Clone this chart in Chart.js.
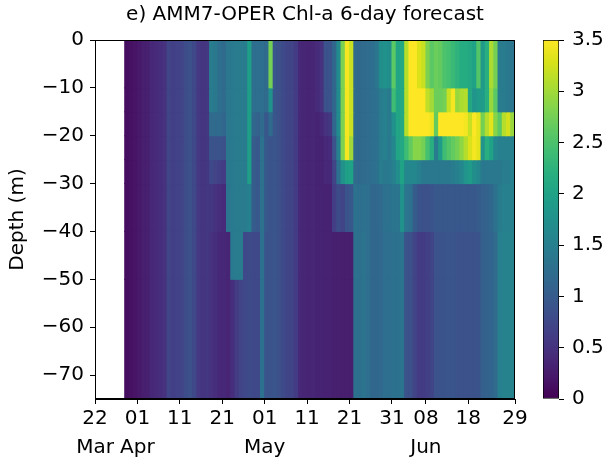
<!DOCTYPE html>
<html>
<head>
<meta charset="utf-8">
<script src="https://cdn.jsdelivr.net/npm/chart.js@4.4.0/dist/chart.umd.min.js"></script>
<style>
  html, body { margin: 0; padding: 0; background: #fff; }
  #wrap { position: relative; width: 610px; height: 459px; }
  #main { position: absolute; left: 0; top: 0; }
  #cbar { position: absolute; left: 530px; top: 0; }
</style>
</head>
<body>
<div id="wrap">
  <canvas id="main" width="610" height="459"></canvas>
  <canvas id="cbar" width="80" height="459"></canvas>
</div>
<script>
/* ---- data: Chl-a (mg m-3) per day, one array per depth layer ---- */
const FIRST_DAY = 7;              // 29 Mar, in days after 22 Mar
const layerTops    = [0, -10, -15, -20, -25, -30, -40, -50];
const layerBottoms = [-10, -15, -20, -25, -30, -40, -50, -75];

const chl0_10 = [
  0.12,0.15,0.18,0.22,0.28,0.3,0.38,0.42,0.45,0.5,0.72,0.65,0.68,0.7,0.82,0.85,0.75,0.58,0.52,0.55,
  1.45,1.4,1.25,1.2,1.38,1.42,1.45,1.45,1.45,1.95,
  1.25,1.25,1.25,1.2,2.75,0.92,0.85,0.78,0.72,0.7,
  0.6,0.38,0.36,0.35,0.36,0.42,0.5,0.88,0.9,1.15,
  1.65,2.8,3.45,3.2,1.2,1.18,1.2,1.22,1.25,1.35,
  1.7,1.75,1.7,2.6,2.05,2.1,3.1,3.5,3.5,3.3,
  3.2,2.8,2.6,2.7,2.65,2.5,2.45,2.35,2.25,2.15,
  2.15,2.1,2.0,2.55,1.9,2.2,3.05,2.75,1.45,1.45,
  1.4,1.35];
const chl10_15 = [
  0.12,0.15,0.18,0.22,0.28,0.3,0.38,0.42,0.45,0.5,0.72,0.65,0.68,0.7,0.82,0.85,0.75,0.58,0.52,0.55,
  1.45,1.4,1.25,1.2,1.38,1.42,1.45,1.45,1.45,1.95,
  1.25,1.25,1.25,1.2,1.75,0.92,0.85,0.78,0.72,0.7,
  0.6,0.38,0.36,0.35,0.36,0.42,0.5,0.88,0.9,1.15,
  1.65,2.8,3.45,3.2,1.2,1.18,1.2,1.22,1.25,1.3,
  1.45,1.5,1.42,2.4,2.05,2.1,3.1,3.5,3.5,3.5,
  3.5,3.15,3.0,2.7,2.7,2.75,3.2,3.45,2.95,3.05,
  3.1,2.1,1.8,1.9,1.9,2.2,2.95,2.6,1.45,1.45,
  1.4,1.35];
const chl15_20 = [
  0.12,0.15,0.18,0.22,0.28,0.3,0.38,0.42,0.45,0.5,0.72,0.65,0.68,0.7,0.82,0.85,0.75,0.58,0.52,0.55,
  1.2,1.2,1.2,1.15,1.38,1.42,1.45,1.45,1.45,1.95,
  1.15,1.1,1.2,0.95,1.2,0.92,0.85,0.78,0.72,0.7,
  0.6,0.38,0.36,0.35,0.36,0.33,0.38,0.5,0.55,1.15,
  1.65,2.8,3.45,3.2,1.2,1.18,1.2,1.22,1.25,1.3,
  1.45,1.5,1.42,1.75,2.05,2.1,3.1,3.5,3.5,3.5,
  3.5,3.5,3.4,2.65,3.5,3.5,3.5,3.5,3.5,3.5,
  3.45,3.2,3.5,3.35,2.75,3.1,3.35,2.85,2.6,3.1,
  3.25,2.95];
const chl20_25 = [
  0.12,0.15,0.18,0.22,0.28,0.3,0.38,0.42,0.45,0.5,0.72,0.65,0.68,0.7,0.82,0.85,0.75,0.58,0.52,0.55,
  0.9,0.88,0.9,0.85,1.38,1.42,1.45,1.45,1.45,1.95,
  1.0,0.95,1.3,0.95,0.9,0.92,0.85,0.78,0.72,0.7,
  0.6,0.38,0.36,0.35,0.36,0.33,0.33,0.38,0.42,0.88,
  1.5,2.8,3.45,3.0,1.2,1.18,1.2,1.22,1.25,1.3,
  1.45,1.5,1.42,1.6,2.05,2.1,2.4,2.65,2.85,2.85,
  2.75,2.45,2.2,1.45,1.9,2.4,2.55,2.65,2.75,2.9,
  3.1,3.3,3.45,3.35,1.8,2.2,2.0,1.6,1.5,1.5,
  1.5,1.5];
const chl25_30 = [
  0.12,0.15,0.18,0.22,0.28,0.3,0.38,0.42,0.45,0.5,0.72,0.65,0.68,0.7,0.82,0.85,0.75,0.58,0.52,0.55,
  0.75,0.7,0.65,0.6,1.38,1.42,1.45,1.45,1.45,1.95,
  1.0,0.95,1.3,0.95,0.9,0.92,0.85,0.78,0.72,0.7,
  0.6,0.38,0.36,0.35,0.36,0.33,0.33,0.38,0.38,0.7,
  1.3,1.75,1.95,2.0,1.2,1.18,1.2,1.22,1.25,1.3,
  1.45,1.4,1.42,1.5,1.7,2.0,1.6,1.6,1.6,1.5,
  1.4,1.4,1.4,1.4,1.4,1.4,1.4,1.45,1.5,1.6,
  1.8,1.9,1.7,1.6,1.4,1.4,1.4,1.4,1.4,1.45,
  1.45,1.5];
const chl30_40 = [
  0.12,0.15,0.18,0.22,0.28,0.3,0.38,0.42,0.45,0.5,0.72,0.65,0.68,0.7,0.82,0.85,0.75,0.58,0.52,0.55,
  0.55,0.5,0.45,0.42,1.35,1.42,1.45,1.45,1.45,1.5,
  1.0,0.95,1.3,0.95,0.9,0.92,0.85,0.78,0.72,0.7,
  0.6,0.38,0.36,0.35,0.36,0.33,0.33,0.32,0.32,0.65,
  0.8,0.7,0.9,0.95,1.3,1.25,1.3,1.25,1.15,1.15,
  1.2,1.3,1.3,1.35,1.35,1.75,1.35,1.3,1.0,0.9,
  0.85,0.85,0.9,0.95,0.95,0.95,0.95,0.95,0.95,0.95,
  0.95,0.95,0.95,1.0,1.05,1.1,1.15,1.3,1.45,1.5,
  1.5,1.5];
const chl40_50 = [
  0.12,0.15,0.18,0.22,0.28,0.3,0.38,0.42,0.45,0.5,0.72,0.65,0.68,0.7,0.82,0.85,0.75,0.58,0.52,0.55,
  0.5,0.45,0.38,0.38,0.35,1.42,1.45,1.45,0.75,0.8,
  0.75,0.75,1.3,0.9,0.9,0.92,0.85,0.78,0.72,0.7,
  0.6,0.38,0.36,0.35,0.36,0.33,0.33,0.32,0.32,0.3,
  0.3,0.28,0.28,0.28,1.3,1.28,1.32,1.25,1.15,1.15,
  1.18,1.25,1.25,1.3,1.3,1.32,0.88,0.85,0.7,0.6,
  0.6,0.65,0.72,0.88,0.9,0.9,0.92,0.92,0.88,0.88,
  0.88,0.88,0.88,0.9,1.05,1.1,1.12,1.2,1.5,1.55,
  1.55,1.55];
const chl50_75 = [
  0.12,0.15,0.18,0.22,0.28,0.3,0.38,0.42,0.45,0.5,0.72,0.65,0.68,0.7,0.82,0.85,0.75,0.58,0.52,0.55,
  0.5,0.45,0.38,0.38,0.35,0.45,0.6,0.7,0.75,0.8,
  0.75,0.75,1.3,0.9,0.9,0.92,0.85,0.78,0.72,0.7,
  0.6,0.38,0.36,0.35,0.36,0.33,0.33,0.32,0.32,0.3,
  0.3,0.28,0.28,0.28,1.3,1.28,1.32,1.25,1.15,1.15,
  1.18,1.25,1.25,1.3,1.3,1.32,0.88,0.85,0.7,0.6,
  0.6,0.65,0.72,0.88,0.9,0.9,0.92,0.92,0.88,0.88,
  0.88,0.88,0.88,0.9,1.05,1.1,1.12,1.2,1.5,1.55,
  1.55,1.55];
const layerValues = [chl0_10, chl10_15, chl15_20, chl20_25, chl25_30, chl30_40, chl40_50, chl50_75];

/* x ticks (days after 22 Mar) */
const tickDays   = [0, 10, 20, 30, 40, 50, 60, 70, 78, 88, 99];
const tickDates  = ['22', '01', '11', '21', '01', '11', '21', '31', '08', '18', '29'];
const tickMonths = ['Mar', 'Apr', '', '', 'May', '', '', '', 'Jun', '', ''];
const depthTicks = [0, -10, -20, -30, -40, -50, -60, -70];
const CB_MIN = 0, CB_MAX = 3.5;

/* viridis, 17 stops */
const VIRIDIS = ['#440154','#48186a','#472d7b','#424086','#3b528b','#33638d','#2c728e','#26828e',
  '#21918c','#1fa088','#28ae80','#3fbc73','#5ec962','#84d44b','#addc30','#d8e219','#fde725'];
const rgb = h => [1, 3, 5].map(i => parseInt(h.slice(i, i + 2), 16));
function viridis(v) {
  const t = Math.min(1, Math.max(0, (v - CB_MIN) / (CB_MAX - CB_MIN))) * (VIRIDIS.length - 1);
  const i = Math.min(VIRIDIS.length - 2, Math.floor(t)), f = t - i;
  const a = rgb(VIRIDIS[i]), b = rgb(VIRIDIS[i + 1]);
  return `rgb(${a.map((c, k) => Math.round(c + (b[k] - c) * f)).join(',')})`;
}

Chart.defaults.font.family = 'DejaVu Sans';
Chart.defaults.font.size = 20;
Chart.defaults.color = '#000';

/* box round the plot area, like the matplotlib spines */
const frame = {
  id: 'frame',
  afterDatasetsDraw(chart) {
    const { ctx, chartArea: a } = chart;
    ctx.save();
    ctx.strokeStyle = '#000'; ctx.lineWidth = 1;
    ctx.strokeRect(Math.round(a.left) + 0.5, Math.round(a.top) + 0.5,
      Math.round(a.right - a.left) - 1, Math.round(a.bottom - a.top) - 1);
    ctx.restore();
  }
};

/* one floating-bar dataset per depth layer, one bar per day */
const datasets = layerValues.map((vals, k) => ({
  data: vals.map((v, i) => ({ x: FIRST_DAY + i + 0.5, y: [layerTops[k], layerBottoms[k]] })),
  backgroundColor: vals.map(viridis),
  borderWidth: 0,
  grouped: false,
  barPercentage: 1,
  categoryPercentage: 1,
  inflateAmount: 0.5,
}));

new Chart(document.getElementById('main'), {
  type: 'bar',
  data: { datasets },
  plugins: [frame],
  options: {
    responsive: false, animation: false,
    layout: { padding: { left: 0, right: 95, top: 0, bottom: 0 } },
    plugins: {
      legend: { display: false }, tooltip: { enabled: false },
      title: { display: true, fullSize: false, text: 'e) AMM7-OPER Chl-a 6-day forecast',
        font: { size: 20, weight: 'normal' }, color: '#000', padding: { top: 3, bottom: 13 } },
    },
    scales: {
      x: {
        type: 'linear', min: 0, max: 99, offset: false,
        afterBuildTicks: s => { s.ticks = tickDays.map(v => ({ value: v })); },
        afterFit: s => { s.height = 60; },
        ticks: { autoSkip: false, maxRotation: 0, minRotation: 0, padding: 0,
          font: { size: 20, lineHeight: 1.45 },
          callback: (v, i) => tickMonths[i] ? [tickDates[i], tickMonths[i]] : tickDates[i] },
        grid: { offset: false, drawOnChartArea: false, tickLength: 5, tickColor: '#000' },
        border: { display: true, color: '#000' },
      },
      y: {
        min: layerBottoms[layerBottoms.length - 1], max: 0,
        afterBuildTicks: s => { s.ticks = depthTicks.map(v => ({ value: v })); },
        afterFit: s => { s.width = 95; },
        ticks: { padding: 6, callback: v => v < 0 ? '\u2212' + Math.abs(v) : String(v) },
        grid: { drawOnChartArea: false, tickLength: 5, tickColor: '#000' },
        border: { display: true, color: '#000' },
        title: { display: true, text: 'Depth (m)', font: { size: 20 }, color: '#000', padding: { top: 6, bottom: 0 } },
      },
    },
  },
});

/* colour bar */
new Chart(document.getElementById('cbar'), {
  type: 'bar',
  data: {
    labels: ['cb'],
    datasets: [{
      data: [[CB_MIN, CB_MAX]],
      backgroundColor: c => {
        const a = c.chart.chartArea; if (!a) return null;
        const g = c.chart.ctx.createLinearGradient(0, a.bottom, 0, a.top);
        VIRIDIS.forEach((col, i) => g.addColorStop(i / (VIRIDIS.length - 1), col));
        return g;
      },
      borderColor: '#000', borderWidth: 1, borderSkipped: false,
      barPercentage: 1, categoryPercentage: 1,
    }],
  },
  options: {
    responsive: false, animation: false,
    layout: { padding: { left: 13, right: 0, top: 40, bottom: 60 } },
    plugins: { legend: { display: false }, tooltip: { enabled: false } },
    scales: {
      x: { display: false },
      y: {
        position: 'right', min: CB_MIN, max: CB_MAX,
        afterFit: s => { s.width = 51; },
        ticks: { stepSize: 0.5, padding: 8, callback: v => String(v) },
        grid: { drawOnChartArea: false, tickLength: 5, tickColor: '#000' },
        border: { display: false },
      },
    },
  },
});
</script>
</body>
</html>
